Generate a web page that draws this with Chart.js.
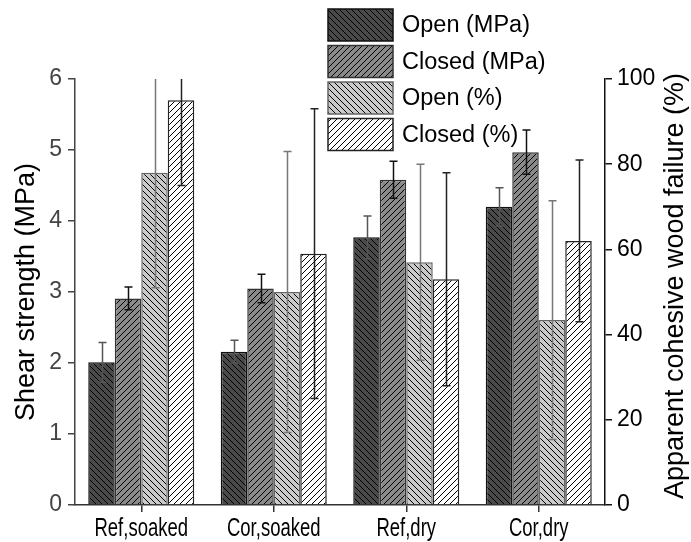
<!DOCTYPE html>
<html>
<head>
<meta charset="utf-8">
<script src="https://cdn.jsdelivr.net/npm/chart.js@4"></script>
<style>
  html, body { margin: 0; padding: 0; background: #fff; }
  canvas { display: block; }
</style>
</head>
<body>
<canvas id="chart" width="691" height="542"></canvas>
<script>
// categories and values
const categories = ['Ref,soaked', 'Cor,soaked', 'Ref,dry', 'Cor,dry'];
const openMPa = [2.01, 2.16, 3.77, 4.20];
const openMPaErr = [0.28, 0.16, 0.30, 0.27];
const closedMPa = [2.91, 3.05, 4.58, 4.97];
const closedMPaErr = [0.16, 0.20, 0.26, 0.31];
const openPct = [78, 50, 57, 43.4];
const openPctErr = [27, 33, 23, 28];
const closedPct = [95, 59, 53, 62];
const closedPctErr = [20, 34, 25, 19];
const mpaTicks = [0, 1, 2, 3, 4, 5, 6];
const pctTicks = [0, 20, 40, 60, 80, 100];
const rightTitle = 'Apparent cohesive wood failure (%)';

const FONT = "'Liberation Sans', Arial, sans-serif";

function hatch(bg, dir) {
  const s = 6;
  const c = document.createElement('canvas');
  c.width = s; c.height = s;
  const g = c.getContext('2d');
  g.fillStyle = bg; g.fillRect(0, 0, s, s);
  g.strokeStyle = '#000'; g.lineWidth = 1;
  g.beginPath();
  if (dir === 'back') {
    g.moveTo(-1, -1); g.lineTo(s + 1, s + 1);
    g.moveTo(-1, s - 1); g.lineTo(1, s + 1);
    g.moveTo(s - 1, -1); g.lineTo(s + 1, 1);
  } else {
    g.moveTo(-1, s + 1); g.lineTo(s + 1, -1);
    g.moveTo(-1, 1); g.lineTo(1, -1);
    g.moveTo(s - 1, s + 1); g.lineTo(s + 1, s - 1);
  }
  g.stroke();
  return document.getElementById('chart').getContext('2d').createPattern(c, 'repeat');
}

const series = [
  { label: 'Open (MPa)', data: openMPa, errors: openMPaErr, axis: 'y', bg: '#4a4a4a', dir: 'back', border: '#111', err: '#555' },
  { label: 'Closed (MPa)', data: closedMPa, errors: closedMPaErr, axis: 'y', bg: '#8a8a8a', dir: 'fwd', border: '#333', err: '#111' },
  { label: 'Open (%)', data: openPct, errors: openPctErr, axis: 'y1', bg: '#cacaca', dir: 'back', border: '#666', err: '#777' },
  { label: 'Closed (%)', data: closedPct, errors: closedPctErr, axis: 'y1', bg: '#ffffff', dir: 'fwd', border: '#222', err: '#222' }
];

const datasets = series.map(s => ({
  label: s.label,
  data: s.data,
  errors: s.errors,
  errColor: s.err,
  yAxisID: s.axis,
  backgroundColor: hatch(s.bg, s.dir),
  borderColor: s.border,
  borderWidth: 1.5,
  categoryPercentage: 0.8,
  barPercentage: 1.0
}));

const errorBars = {
  id: 'errorBars',
  afterDatasetsDraw(chart) {
    const ctx = chart.ctx, area = chart.chartArea;
    ctx.save();
    ctx.beginPath();
    ctx.rect(area.left, area.top, area.right - area.left, area.bottom - area.top);
    ctx.clip();
    chart.data.datasets.forEach((ds, i) => {
      const meta = chart.getDatasetMeta(i);
      const sc = chart.scales[ds.yAxisID];
      ctx.strokeStyle = ds.errColor;
      ctx.lineWidth = 1.5;
      meta.data.forEach((bar, j) => {
        const v = ds.data[j], e = ds.errors[j];
        const yt = sc.getPixelForValue(v + e), yb = sc.getPixelForValue(v - e);
        const x = Math.round(bar.x) + 0.5, cap = 4;
        ctx.beginPath();
        ctx.moveTo(x, yt); ctx.lineTo(x, yb);
        ctx.moveTo(x - cap, yt); ctx.lineTo(x + cap, yt);
        ctx.moveTo(x - cap, yb); ctx.lineTo(x + cap, yb);
        ctx.stroke();
      });
    });
    ctx.restore();
  }
};

// legend boxes over the plot, narrow category labels, right title reading upwards
const extras = {
  id: 'extras',
  afterDraw(chart) {
    const ctx = chart.ctx;
    ctx.save();
    chart.data.datasets.forEach((ds, i) => {
      const x = 328, y = 9 + i * 36.5, w = 65, h = 32;
      ctx.fillStyle = ds.backgroundColor;
      ctx.fillRect(x, y, w, h);
      ctx.strokeStyle = ds.borderColor;
      ctx.lineWidth = 1.5;
      ctx.strokeRect(x, y, w, h);
      ctx.fillStyle = '#000';
      ctx.font = '23.5px ' + FONT;
      ctx.textBaseline = 'middle';
      ctx.textAlign = 'left';
      ctx.fillText(ds.label, x + 74, y + h / 2 + 1);
    });
    ctx.restore();

    const xs = chart.scales.x;
    ctx.save();
    ctx.fillStyle = '#000';
    ctx.font = '25px ' + FONT;
    ctx.textAlign = 'center';
    ctx.textBaseline = 'middle';
    categories.forEach((c, i) => {
      ctx.save();
      ctx.translate(xs.getPixelForTick(i), xs.bottom - 13);
      ctx.scale(0.74, 1);
      ctx.fillText(c, 0, 0);
      ctx.restore();
    });
    ctx.restore();

    ctx.save();
    ctx.translate(676, 286);
    ctx.rotate(-Math.PI / 2);
    ctx.fillStyle = '#000';
    ctx.font = '27px ' + FONT;
    ctx.textAlign = 'center';
    ctx.textBaseline = 'middle';
    ctx.fillText(rightTitle, 0, 0);
    ctx.restore();
  }
};

function axisStyle(color) {
  return {
    grid: { display: true, drawOnChartArea: false, drawTicks: true, tickLength: 7, color: color, lineWidth: 1.5 },
    border: { display: true, color: color, width: 1.5 }
  };
}

new Chart(document.getElementById('chart'), {
  type: 'bar',
  data: { labels: categories, datasets },
  options: {
    responsive: false,
    animation: false,
    layout: { padding: { top: 79 } },
    plugins: { legend: { display: false }, tooltip: { enabled: false } },
    scales: {
      x: {
        ...axisStyle('#333'),
        grid: { display: true, drawOnChartArea: false, offset: false, tickLength: 7, color: '#333', lineWidth: 1.5 },
        ticks: { display: false },
        afterFit(s) { s.height = 37; }
      },
      y: {
        ...axisStyle('#444'),
        position: 'left',
        min: 0, max: 6,
        afterBuildTicks(s) { s.ticks = mpaTicks.map(v => ({ value: v })); },
        ticks: { color: '#444', font: { family: FONT, size: 23 }, padding: 6 },
        title: { display: true, text: 'Shear strength (MPa)', color: '#000', font: { family: FONT, size: 27 }, padding: { top: 10, bottom: 0 } },
        afterFit(s) { s.width = 75; }
      },
      y1: {
        ...axisStyle('#111'),
        position: 'right',
        min: 0, max: 100,
        afterBuildTicks(s) { s.ticks = pctTicks.map(v => ({ value: v })); },
        ticks: { color: '#000', font: { family: FONT, size: 23 }, padding: 5 },
        afterFit(s) { s.width = 86; }
      }
    }
  },
  plugins: [errorBars, extras]
});
</script>
</body>
</html>
